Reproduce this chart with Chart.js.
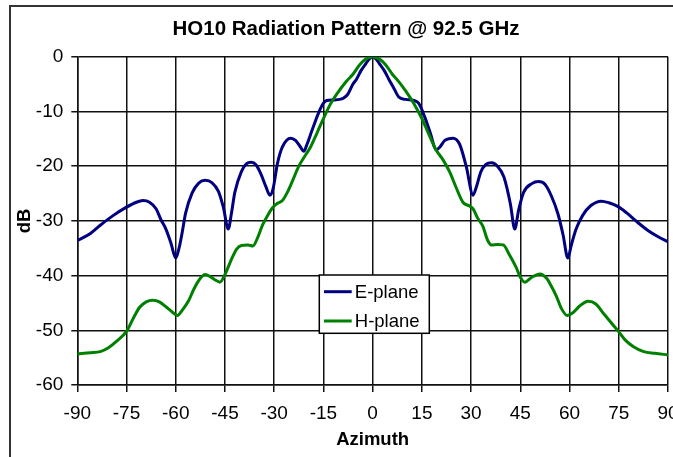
<!DOCTYPE html>
<html>
<head>
<meta charset="utf-8">
<script src="https://cdn.jsdelivr.net/npm/chart.js@4"></script>
<style>
  html, body { margin: 0; padding: 0; background: #fff; overflow: hidden; }
  #frame { position: absolute; left: 8.5px; top: 5px; width: 760px; height: 520px; border: 2px solid #333; }
  #chart { position: absolute; left: 0; top: 0; display: block; }
</style>
</head>
<body>
<div id="frame"></div>
<canvas id="chart" width="692" height="457"></canvas>
<script>
// azimuth (deg) and level (dB)
const eAzimuth = [-90, -86, -83, -79, -75, -72, -70, -68, -66, -64.5, -63, -61.5, -60, -59, -58, -57, -55, -53, -51, -49, -47, -45.5, -44,
  -43, -42, -40, -38.5, -37, -35.5, -34, -32.5, -31.3, -30.3, -29, -27.5, -25, -23.5, -22, -21, -20, -18.5, -16.5, -15, -14, -12, -10,
  -8.5, -7.5, -6, -5, -3.5, -2, -1, 0,
  1, 2, 3.5, 5, 6.5, 8, 10, 12.5, 14, 15.8, 17.5, 19.4, 20.5, 22, 24.5, 26.5, 28.5, 30.6, 31.5, 33, 34.5, 36.3, 38, 40, 42, 43.3,
  44.5, 46, 48.5, 50.5, 52.5, 54.5, 56.5, 58, 59.5, 60.5, 62, 64, 66.5, 69.7, 72, 74.8, 77.5, 80.4, 84, 87, 90];
const eLevel = [-33.6, -32.3, -30.8, -29.0, -27.5, -26.6, -26.3, -26.6, -27.8, -29.8, -31.5, -34.0, -36.8, -35.0, -32.0, -28.6, -24.9, -23.1, -22.6, -23.0, -24.6, -27.5, -31.5,
  -28.5, -24.8, -21.0, -19.6, -19.3, -19.8, -21.5, -23.8, -25.3, -24.0, -19.5, -16.5, -14.9, -15.3, -16.5, -17.3, -16.0, -13.5, -10.3, -8.5, -8.0, -7.9, -7.8,
  -7.4, -6.8, -5.0, -4.2, -2.5, -1.2, -0.4, 0,
  -0.4, -1.2, -2.5, -4.2, -5.8, -7.4, -7.8, -8.0, -8.5, -10.9, -13.8, -17.0, -16.5, -15.3, -14.9, -16.0, -20.0, -25.3, -24.0, -21.0, -19.7, -19.4, -20.0, -22.0, -27.0, -31.5,
  -28.0, -24.8, -23.2, -22.8, -23.3, -25.5, -28.8, -32.5, -36.8, -34.5, -31.5, -29.0, -27.2, -26.4, -26.7, -27.4, -28.6, -30.1, -31.8, -32.9, -33.8];

const hAzimuth = [-90, -86, -83, -80.5, -78, -75, -72.5, -71, -69, -67, -65, -63, -61, -59.5, -58, -56, -54.5, -52.5, -51, -49.5, -48, -46.5, -45,
  -43, -41.5, -40, -38, -36.5, -35, -33.5, -32, -30.5, -29, -27.5, -26, -24.5, -22.5, -20.5, -19, -17, -15, -13, -11, -8, -6, -4, -2, 0,
  2, 4, 6, 8, 10, 12.5, 15, 17, 19.3, 21.5, 23.5, 25.5, 27.5, 29.5, 30.6, 32, 33.6, 35, 36.2, 38, 39.8, 41.5, 43.8, 45, 46.4,
  48.5, 51, 53, 54.5, 56, 57.5, 59.3, 61, 63, 65.7, 68, 70.3, 72.5, 74.9, 77, 79.5, 82.6, 86, 90];
const hLevel = [-54.3, -54.1, -53.9, -53.2, -52.0, -50.2, -47.3, -45.8, -44.8, -44.5, -44.8, -45.7, -46.7, -47.3, -46.3, -44.5, -42.5, -40.5, -39.8, -40.2, -40.8, -41.2, -39.8,
  -37.0, -35.2, -34.5, -34.4, -34.6, -33.0, -30.7, -29.0, -27.6, -26.8, -26.3, -24.8, -22.8, -20.0, -18.0, -16.6, -14.0, -11.3, -8.8, -6.9, -4.5, -3.2, -1.5, -0.4, 0,
  -0.4, -1.5, -3.2, -4.6, -6.2, -8.5, -11.3, -14.0, -17.0, -18.9, -21.1, -24.0, -26.6, -27.3, -27.8, -29.5, -31.0, -33.5, -34.4, -34.3, -34.4, -36.0, -38.6, -40.3, -41.2,
  -40.3, -39.7, -40.5, -42.0, -43.8, -46.0, -47.3, -46.8, -45.6, -44.7, -45.2, -46.9, -48.5, -50.2, -51.8, -53.0, -53.9, -54.2, -54.5];

const seriesNames = ['E-plane', 'H-plane'];
const seriesColors = ['#000080', '#008000'];
const xTicks = [-90, -75, -60, -45, -30, -15, 0, 15, 30, 45, 60, 75, 90];
const yTicks = [0, -10, -20, -30, -40, -50, -60];

const FONT = "'Liberation Sans', Arial, sans-serif";
Chart.defaults.font.family = FONT;
Chart.defaults.color = '#000';

const toPoints = (xs, ys) => xs.map((x, i) => ({ x: x, y: ys[i] }));

// legend box drawn inside the plot, like the spreadsheet one
const boxLegend = {
  id: 'boxLegend',
  afterDatasetsDraw(chart) {
    const { ctx, chartArea } = chart;
    const left = chartArea.left + 242, top = chartArea.top + 218.3;
    const w = 110, h = 58.3;
    ctx.save();
    ctx.fillStyle = '#fff';
    ctx.fillRect(left, top, w, h);
    ctx.strokeStyle = '#000';
    ctx.lineWidth = 1.5;
    ctx.strokeRect(left, top, w, h);
    ctx.font = '18.5px ' + FONT;
    ctx.textBaseline = 'middle';
    chart.data.datasets.forEach((ds, i) => {
      const y = top + 16.7 + i * 29.3;
      ctx.strokeStyle = ds.borderColor;
      ctx.lineWidth = 3;
      ctx.beginPath();
      ctx.moveTo(left + 4.7, y);
      ctx.lineTo(left + 32.4, y);
      ctx.stroke();
      ctx.fillStyle = '#000';
      ctx.fillText(ds.label, left + 35.5, y + 1);
    });
    ctx.restore();
  }
};

new Chart(document.getElementById('chart'), {
  type: 'line',
  data: {
    datasets: [
      {
        label: seriesNames[0],
        data: toPoints(eAzimuth, eLevel),
        borderColor: seriesColors[0],
        borderWidth: 3,
        pointRadius: 0,
        cubicInterpolationMode: 'monotone',
        order: 1
      },
      {
        label: seriesNames[1],
        data: toPoints(hAzimuth, hLevel),
        borderColor: seriesColors[1],
        borderWidth: 3,
        pointRadius: 0,
        cubicInterpolationMode: 'monotone',
        order: 0
      }
    ]
  },
  options: {
    responsive: false,
    animation: false,
    devicePixelRatio: 1,
    layout: { padding: { left: 24, right: 24, top: 0, bottom: 0 } },
    plugins: {
      legend: { display: false },
      tooltip: { enabled: false },
      title: {
        display: true,
        text: 'HO10 Radiation Pattern @ 92.5 GHz',
        color: '#000',
        font: { size: 20.5, weight: 'bold' },
        padding: { top: 17.2, bottom: 14.9 }
      }
    },
    scales: {
      x: {
        type: 'linear',
        min: -90,
        max: 90,
        afterBuildTicks: (scale) => { scale.ticks = xTicks.map(v => ({ value: v })); },
        afterFit: (scale) => { scale.height = 72; },
        grid: { color: '#111', lineWidth: 1.5, tickLength: 7, tickColor: '#111' },
        border: { color: '#111', width: 1.5 },
        ticks: { font: { size: 19 }, padding: 10, maxRotation: 0, color: '#000' },
        title: {
          display: true,
          text: 'Azimuth',
          color: '#000',
          font: { size: 18.5, weight: 'bold' },
          padding: { top: 0, bottom: 5.9 }
        }
      },
      y: {
        min: -60,
        max: 0,
        afterBuildTicks: (scale) => { scale.ticks = yTicks.map(v => ({ value: v })); },
        afterFit: (scale) => { scale.width = 53.3; },
        grid: { color: '#111', lineWidth: 1.5, tickLength: 6, tickColor: '#111' },
        border: { color: '#111', width: 1.5 },
        ticks: { font: { size: 19 }, padding: 8, color: '#000' },
        title: {
          display: true,
          text: 'dB',
          color: '#000',
          font: { size: 18.5, weight: 'bold' },
          padding: { top: -10, bottom: 0 }
        }
      }
    }
  },
  plugins: [boxLegend]
});
</script>
</body>
</html>
